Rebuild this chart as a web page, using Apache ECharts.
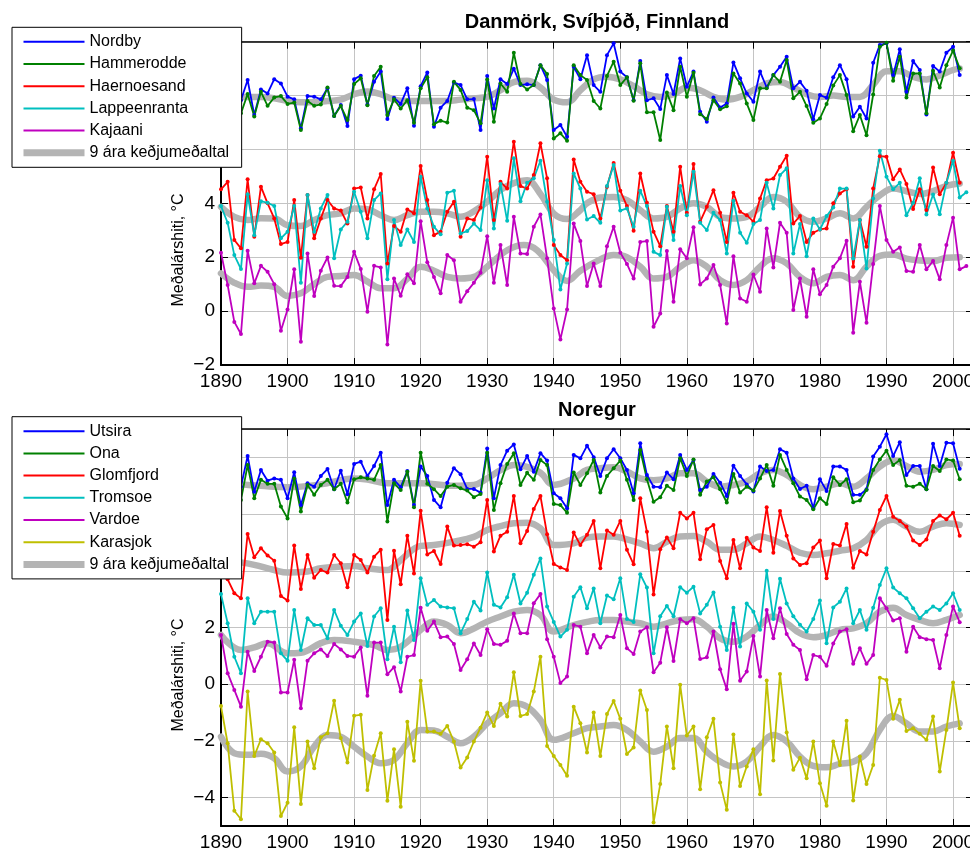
<!DOCTYPE html>
<html><head><meta charset="utf-8">
<script src="https://cdn.jsdelivr.net/npm/echarts@6/dist/echarts.min.js"></script>
<style>html,body{margin:0;padding:0;background:#fff}#c{width:970px;height:848px}</style>
</head><body><div id="c"></div>
<script>
const startYear = 1890;
const xTickInterval = 10;

// ---- Danmörk, Svíþjóð, Finnland (annual means from 1890) ----
const nordby = [7.7,8.2,7.3,7.83,8.58,7.28,8.23,8.08,8.61,8.45,
7.96,7.86,6.78,7.98,7.96,7.86,8.27,7.24,7.65,6.87,
8.61,8.74,7.67,8.51,8.89,7.13,7.92,7.69,8.27,6.88,
8.35,8.86,6.84,7.55,7.80,8.49,8.39,7.86,7.87,6.72,
8.73,7.52,8.61,8.43,9.0,8.39,8.42,8.39,9.13,8.58,
6.72,6.91,6.47,9.07,8.61,9.50,8.39,8.14,9.50,9.94,
8.89,8.68,7.83,9.28,7.83,7.90,7.50,8.76,8.06,9.38,
8.33,8.89,7.40,7.03,7.93,7.56,7.71,9.23,8.64,8.08,
7.77,8.89,8.30,8.76,9.07,9.44,8.27,8.51,8.18,7.12,
8.02,7.92,8.68,9.13,8.61,7.22,7.59,7.15,9.22,9.88,
9.94,8.76,9.72,8.14,9.28,8.95,7.30,9.10,8.89,9.59,
9.81,8.76];
const hammerodde = [7.3,7.9,7.0,7.34,8.06,7.22,8.14,7.62,7.93,7.98,
7.69,7.74,6.72,7.80,7.62,7.67,8.30,7.24,7.61,7.09,
8.43,8.64,7.64,8.73,9.07,7.28,7.86,7.52,7.83,6.99,
8.27,8.68,6.94,7.07,7.00,8.51,8.21,7.55,7.46,6.97,
8.60,7.03,8.45,8.14,9.59,8.43,8.23,8.39,9.13,8.80,
6.41,6.60,6.32,9.13,8.76,8.58,7.80,7.52,8.73,9.26,
8.39,8.68,7.81,9.20,7.38,7.38,6.35,8.11,7.46,9.07,
7.96,8.85,7.31,7.13,7.83,7.49,7.60,8.82,8.45,7.71,
7.09,8.27,8.27,8.76,8.51,9.32,7.90,8.14,7.61,6.99,
7.15,7.69,8.37,8.76,8.02,6.68,7.28,6.53,8.04,9.81,
9.96,8.55,9.44,7.93,8.82,8.82,7.34,8.92,8.30,9.13,
9.67,9.01];
const haernoesand = [4.52,4.80,2.64,2.33,4.89,2.76,4.62,4.00,3.44,2.49,
2.57,4.12,1.98,4.31,2.70,3.44,4.12,3.81,3.73,3.25,
4.55,4.59,3.44,4.52,5.09,1.77,3.16,2.95,3.77,3.63,
5.39,4.12,2.82,2.95,3.69,4.06,2.76,3.44,3.38,3.85,
5.73,3.38,4.80,4.55,6.29,4.64,4.55,5.05,6.23,4.93,
2.45,2.08,1.89,5.63,4.80,4.43,4.34,3.44,4.62,5.50,
4.47,3.90,2.98,5.11,4.02,2.95,2.41,3.90,2.95,5.36,
3.65,5.46,3.32,3.87,4.49,3.65,2.57,4.39,3.69,3.56,
3.32,4.18,4.86,4.92,5.36,5.77,3.25,3.53,2.57,2.91,
3.03,3.07,4.00,4.37,4.52,1.65,3.38,2.39,4.55,5.75,
5.73,4.89,5.26,4.72,3.79,4.52,3.75,5.33,4.34,4.76,
5.88,4.76];
const lappeenranta = [3.90,3.28,2.08,1.56,4.34,2.82,4.08,4.02,3.90,2.70,
2.95,3.90,1.05,4.31,2.95,3.81,4.31,1.96,3.03,3.32,
4.43,3.69,2.70,4.12,4.37,1.18,3.38,2.45,3.03,2.57,
4.99,3.81,3.13,2.85,4.39,4.47,2.88,2.97,3.25,3.01,
4.86,3.07,4.72,3.35,5.67,4.08,4.76,4.93,5.58,4.06,
2.64,0.80,1.77,5.11,4.55,3.40,3.53,3.28,4.64,5.42,
3.73,3.81,3.13,4.47,3.90,2.20,2.08,3.87,2.64,4.64,
3.56,5.17,3.28,3.01,3.65,3.38,2.14,4.10,2.91,2.54,
3.23,3.38,4.76,3.81,5.05,5.30,2.14,3.23,2.04,3.44,
3.03,3.53,3.85,4.55,4.55,1.95,3.38,1.58,4.18,5.95,
4.99,4.52,4.76,3.56,4.02,4.93,3.59,4.33,3.60,4.76,
5.58,4.22,4.41];
const kajaani = [2.17,0.97,-0.40,-0.85,2.24,1.03,1.68,1.46,1.00,-0.73,
0.06,1.55,-1.14,2.14,0.56,1.50,1.99,0.94,0.93,1.27,
2.20,1.56,-0.02,1.68,1.62,-1.24,1.21,0.57,1.37,1.03,
3.34,1.81,1.27,0.66,2.08,1.89,0.35,0.74,1.05,1.42,
2.78,1.05,2.45,0.97,3.50,2.14,2.12,3.13,3.59,1.96,
0.10,-1.05,0.06,3.25,2.60,0.93,1.77,0.93,2.41,3.13,
2.17,1.75,1.21,2.57,2.60,-0.58,-0.09,2.23,0.35,2.30,
1.96,3.11,0.99,1.21,1.71,0.97,-0.46,2.04,0.47,0.35,
1.36,0.72,3.07,1.62,3.28,2.91,0.04,1.21,-0.21,1.55,
0.63,0.97,1.65,1.96,2.61,-0.80,1.09,-0.43,1.75,3.90,
2.64,2.20,2.36,1.49,1.46,2.45,1.55,1.86,1.18,2.45,
3.47,1.55,1.67];

// ---- Noregur ----
const utsira = [7.3,6.9,7.8,6.97,8.05,6.79,7.56,7.18,7.26,7.21,
6.56,7.48,6.32,7.09,6.97,7.35,7.59,6.88,7.53,6.70,
7.77,7.85,7.35,7.70,8.17,6.32,7.21,6.95,7.52,6.32,
7.68,7.35,6.50,6.24,7.11,7.62,7.41,6.89,6.89,6.76,
8.32,6.56,7.73,8.24,8.46,7.58,8.05,7.50,8.15,7.89,
6.74,6.56,6.21,8.09,7.97,8.41,8.01,7.35,7.97,8.29,
7.97,7.56,6.74,8.50,7.38,6.97,6.95,7.47,7.23,8.09,
7.56,7.91,6.85,6.97,7.42,7.11,6.64,7.71,7.35,7.05,
6.80,7.68,7.52,7.56,8.29,8.17,7.26,6.89,7.00,6.21,
7.23,6.82,7.68,7.68,7.56,6.68,6.68,6.88,8.03,8.38,
8.82,8.05,8.54,7.38,7.70,7.70,6.88,8.48,7.70,8.52,
8.50,7.60];
const ona = [6.9,6.6,7.5,6.50,7.73,6.56,7.21,7.07,7.07,6.27,
5.85,7.26,6.09,7.03,6.68,7.03,7.21,6.88,7.07,6.41,
7.23,7.30,7.26,7.21,7.73,5.74,7.09,6.85,7.50,6.24,
8.17,7.07,6.88,6.64,6.97,7.03,6.91,6.83,6.60,6.71,
8.17,6.15,7.09,7.77,8.15,7.03,7.46,7.21,7.91,7.73,
6.36,6.32,6.05,7.47,7.03,7.44,7.91,6.76,7.35,7.62,
7.89,7.21,6.50,8.26,7.23,6.44,6.60,7.00,6.85,7.97,
7.35,7.93,6.68,7.15,7.30,6.88,6.41,7.42,6.76,6.97,
6.83,7.26,7.73,7.00,8.09,7.56,7.09,6.62,6.50,6.17,
6.56,6.36,7.30,7.03,7.23,6.42,6.48,6.85,7.56,7.93,
8.24,7.73,7.91,7.00,6.97,7.07,6.88,7.70,7.52,7.93,
7.89,7.23];
const glomfjord = [4.4,3.7,3.21,3.03,5.30,4.48,4.80,4.54,4.36,3.11,
2.95,4.89,3.36,4.56,3.76,4.03,3.94,4.56,4.27,3.42,
4.56,4.38,3.94,4.50,4.74,2.27,4.71,3.53,5.24,3.91,
6.12,4.58,4.70,4.24,5.56,4.89,4.91,4.94,4.85,5.01,
6.50,4.68,5.24,5.38,6.64,4.97,5.41,6.18,6.64,5.29,
4.24,4.12,4.03,5.35,4.91,5.27,5.76,4.09,5.42,5.27,
5.76,4.74,4.23,6.56,5.38,3.17,4.76,5.18,4.80,6.05,
5.85,6.05,4.41,5.47,5.62,4.35,3.74,5.09,4.09,5.17,
4.82,4.70,6.24,4.64,6.11,5.24,4.44,4.21,4.27,4.82,
5.07,3.74,4.95,4.89,5.65,4.11,4.70,4.58,5.38,6.15,
6.64,5.91,5.76,5.56,5.07,4.91,5.11,5.76,5.95,5.82,
6.05,5.24];
const tromsoe = [3.18,2.15,0.97,0.39,3.03,2.15,2.56,2.56,2.56,1.09,
0.83,2.62,1.21,2.33,2.09,2.09,1.62,2.62,2.06,1.74,
2.21,2.50,1.35,2.39,2.68,0.88,2.03,0.78,2.60,1.56,
3.74,2.80,2.97,2.74,2.71,2.68,1.80,2.30,2.91,2.60,
3.94,2.80,2.71,3.07,3.86,2.85,3.23,3.86,4.44,2.74,
2.20,1.68,1.92,3.09,3.42,2.68,3.38,2.15,3.13,3.00,
3.74,2.30,2.20,3.88,3.41,1.09,2.40,2.76,2.40,3.42,
3.23,3.44,2.50,2.80,3.24,2.03,1.21,2.70,1.33,2.85,
2.56,1.92,4.00,2.30,3.72,2.85,2.40,2.10,1.86,2.30,
2.95,1.45,2.71,2.91,3.38,2.15,2.62,1.92,2.70,3.50,
4.09,3.41,3.21,3.03,2.68,2.33,2.56,2.74,2.62,2.85,
3.21,2.62];
const vardoe = [1.74,0.39,-0.20,-0.79,1.15,0.47,0.97,1.50,1.47,-0.29,
-0.29,0.86,-0.85,0.83,1.09,1.23,1.00,1.42,1.23,1.00,
0.97,1.30,-0.41,1.47,1.47,0.35,0.60,-0.26,0.97,1.03,
2.70,1.89,2.21,1.66,1.68,1.42,0.50,0.88,1.44,1.03,
1.94,1.42,1.39,1.53,2.50,1.80,1.80,2.86,3.18,1.59,
0.97,0.04,0.27,2.09,2.03,1.09,1.74,1.30,1.68,1.66,
2.44,1.27,1.07,1.86,2.01,0.42,0.76,2.01,0.82,2.29,
2.15,2.33,0.89,0.95,1.86,0.53,-0.18,2.13,0.12,0.45,
1.70,0.27,2.62,1.62,2.68,1.77,1.39,1.21,0.18,1.03,
0.97,0.65,1.44,1.86,1.94,0.72,1.27,0.72,1.03,3.03,
2.68,2.25,2.33,1.15,2.03,1.66,1.59,1.56,0.56,1.74,
2.74,2.19];
const karasjok = [-0.77,-2.08,-4.46,-4.76,-0.26,-2.53,-1.94,-2.08,-2.41,-4.65,
-4.18,-1.52,-4.22,-2.02,-2.96,-1.87,-1.73,-0.58,-1.90,-2.76,
-1.11,-1.08,-3.73,-2.52,-1.73,-4.11,-2.29,-4.32,-1.32,-2.70,
0.12,-1.67,-1.67,-1.75,-1.47,-2.02,-2.94,-2.58,-2.02,-1.53,
-1.00,-1.47,-0.69,-1.14,0.42,-1.12,-1.05,-0.26,0.97,-2.18,
-2.53,-2.85,-3.23,-0.79,-1.38,-2.41,-1.00,-2.53,-1.05,-0.59,
-1.22,-2.46,-2.23,-0.22,-0.91,-4.88,-3.52,-1.49,-2.96,-0.02,
-1.81,-1.49,-3.70,-1.87,-1.22,-3.47,-4.43,-1.77,-3.59,-2.90,
-2.29,-3.88,0.13,-2.69,0.36,-1.70,-3.02,-2.59,-3.32,-2.02,
-3.49,-4.29,-2.02,-2.85,-1.29,-4.10,-2.55,-3.52,-2.85,0.23,
0.15,-1.22,-0.55,-1.65,-1.55,-1.75,-1.96,-1.14,-3.08,-1.61,
0.06,-1.55];

// ---- 9 ára keðjumeðaltal ([year, value]) ----
const maTopUpper = [[1890,7.9],[1892,7.95],[1894,7.95],[1896,7.95],[1898,7.9],[1900,7.8],[1902,7.75],[1904,7.75],[1906,7.8],[1908,7.85],[1910,8.05],[1912,8.15],[1914,8.05],[1916,7.85],[1918,7.8],[1920,7.8],[1922,7.8],[1924,7.8],[1926,7.85],[1928,7.9],[1930,7.95],[1932,8.2],[1934,8.5],[1936,8.55],[1938,8.3],[1940,7.85],[1942,7.75],[1944,8.2],[1946,8.6],[1948,8.7],[1950,8.6],[1952,8.35],[1954,8.05],[1956,7.95],[1958,8.05],[1960,8.3],[1962,8.2],[1964,7.95],[1966,7.85],[1968,7.95],[1970,8.2],[1972,8.45],[1974,8.5],[1976,8.3],[1978,8.05],[1980,7.95],[1982,8.0],[1984,7.95],[1986,7.95],[1988,8.4],[1990,8.9],[1992,8.9],[1994,8.7],[1996,8.6],[1998,8.75],[2000,8.95],[2001,9.0]];
const maTopMiddle = [[1890,3.87],[1892,3.5],[1894,3.38],[1896,3.45],[1898,3.44],[1900,3.19],[1902,3.16],[1904,3.38],[1906,3.56],[1908,3.63],[1910,3.81],[1912,3.78],[1914,3.56],[1916,3.38],[1918,3.56],[1920,3.69],[1922,3.69],[1924,3.63],[1926,3.5],[1928,3.7],[1930,4.06],[1932,4.5],[1934,4.75],[1936,4.86],[1938,4.35],[1940,3.62],[1942,3.42],[1944,3.75],[1945,4.0],[1947,4.22],[1949,4.24],[1951,4.12],[1953,3.75],[1955,3.44],[1957,3.5],[1959,3.81],[1961,4.0],[1963,3.87],[1965,3.5],[1967,3.44],[1969,3.5],[1971,3.87],[1973,4.24],[1975,4.06],[1977,3.5],[1979,3.32],[1981,3.44],[1983,3.63],[1985,3.44],[1987,3.87],[1989,4.3],[1991,4.55],[1993,4.45],[1995,4.35],[1997,4.45],[1999,4.65],[2001,4.74]];
const maTopLower = [[1890,1.4],[1892,1.05],[1894,0.9],[1896,0.95],[1898,0.9],[1900,0.56],[1902,0.66],[1904,1.0],[1906,1.27],[1908,1.3],[1910,1.34],[1912,1.1],[1914,0.85],[1916,0.85],[1918,1.2],[1920,1.65],[1922,1.5],[1924,1.27],[1926,1.21],[1928,1.27],[1930,1.65],[1933,2.26],[1935.5,2.45],[1937.5,2.26],[1940,1.52],[1942,1.12],[1944,1.5],[1947,1.92],[1949,2.08],[1951,2.0],[1953,1.65],[1955,1.21],[1957,1.27],[1959,1.65],[1961,1.89],[1963,1.65],[1965,1.15],[1967,0.97],[1969,1.15],[1971,1.65],[1973,1.96],[1975,1.77],[1977,1.27],[1979,1.03],[1981,1.27],[1983,1.34],[1985,1.15],[1987,1.65],[1989,2.05],[1991,2.1],[1993,1.95],[1995,1.88],[1997,1.85],[1999,1.98],[2001,2.0]];
const maBotUpper = [[1890,7.1],[1893,7.05],[1896,7.0],[1900,6.95],[1905,7.05],[1910,7.26],[1912,7.22],[1915,7.09],[1920,7.09],[1925,7.0],[1928,7.03],[1930,7.26],[1932,7.55],[1934,7.73],[1936,7.67],[1938,7.46],[1940,7.03],[1943,7.26],[1945,7.56],[1947,7.62],[1949,7.65],[1951,7.5],[1953,7.26],[1955,7.2],[1957,7.26],[1959,7.44],[1961,7.44],[1963,7.15],[1965,6.97],[1967,7.03],[1969,7.15],[1971,7.44],[1973,7.56],[1975,7.38],[1977,7.03],[1979,6.88],[1981,6.97],[1983,7.09],[1985,6.97],[1987,7.26],[1989,7.68],[1991,7.89],[1993,7.7],[1995,7.5],[1997,7.56],[1999,7.73],[2001,7.77]];
const maBotGlom = [[1890,4.38],[1893,4.3],[1895,4.21],[1898,4.03],[1900,3.94],[1903,3.98],[1905,4.09],[1908,4.15],[1910,4.17],[1912,4.09],[1915,4.03],[1917,4.38],[1920,4.88],[1922,4.91],[1925,5.03],[1928,5.2],[1930,5.44],[1932,5.58],[1934,5.68],[1936,5.7],[1938,5.5],[1940,4.91],[1943,4.97],[1945,5.17],[1947,5.21],[1949,5.21],[1951,5.11],[1953,4.97],[1955,4.8],[1957,5.03],[1959,5.21],[1961,5.23],[1963,5.03],[1965,4.74],[1967,4.74],[1969,4.97],[1971,5.21],[1973,5.09],[1975,4.88],[1977,4.64],[1979,4.56],[1981,4.62],[1983,4.71],[1985,4.8],[1987,5.09],[1989,5.62],[1991,5.8],[1993,5.56],[1995,5.38],[1997,5.56],[1999,5.68],[2001,5.62]];
const maBotMid = [[1890,1.74],[1893,1.21],[1895,1.3],[1897,1.45],[1900,1.09],[1902,1.11],[1905,1.45],[1907,1.56],[1910,1.5],[1913,1.38],[1915,1.21],[1917,1.32],[1920,1.92],[1922,2.21],[1924,2.09],[1926,1.8],[1928,1.97],[1930,2.21],[1932,2.39],[1934,2.56],[1936,2.62],[1938,2.44],[1940,1.86],[1943,2.09],[1945,2.2],[1947,2.27],[1949,2.27],[1951,2.21],[1953,2.15],[1955,2.03],[1957,2.15],[1959,2.27],[1961,2.29],[1963,2.03],[1965,1.62],[1967,1.5],[1969,1.68],[1971,2.09],[1973,2.39],[1975,2.15],[1977,1.8],[1979,1.66],[1981,1.74],[1983,1.92],[1985,1.97],[1987,2.15],[1989,2.56],[1991,2.7],[1993,2.44],[1995,2.27],[1997,2.15],[1999,2.27],[2001,2.44]];
const maBotKara = [[1890,-1.85],[1892,-2.43],[1894,-2.49],[1896,-2.45],[1898,-2.61],[1900,-3.08],[1902,-2.9],[1904,-2.2],[1906,-1.79],[1908,-1.85],[1910,-2.2],[1912,-2.55],[1914,-2.79],[1916,-2.67],[1918,-2.08],[1920,-1.61],[1922,-1.63],[1924,-1.85],[1926,-2.08],[1928,-1.85],[1930,-1.38],[1932,-1.02],[1934,-0.67],[1936,-0.79],[1938,-1.26],[1940,-1.96],[1943,-1.73],[1945,-1.55],[1947,-1.49],[1949,-1.44],[1951,-1.61],[1953,-2.02],[1955,-2.38],[1957,-2.2],[1959,-1.9],[1961,-1.9],[1963,-2.38],[1965,-2.73],[1967,-2.9],[1969,-2.73],[1971,-2.2],[1973,-1.79],[1975,-2.02],[1977,-2.55],[1979,-2.88],[1981,-2.93],[1983,-2.81],[1985,-2.73],[1987,-2.43],[1989,-1.61],[1991,-1.12],[1993,-1.38],[1995,-1.67],[1997,-1.67],[1999,-1.49],[2001,-1.38]];

const maName = '9 ára keðjumeðaltal';
const topTitle = 'Danmörk, Svíþjóð, Finnland';
const botTitle = 'Noregur';
const yName = 'Meðalárshiti, °C';

const FONT = '"Liberation Sans", Arial, Helvetica, sans-serif';
const C = {blue:'#0000ff', green:'#008000', red:'#ff0000', cyan:'#00bfbf', magenta:'#bf00bf', yellow:'#bfbf00', gray:'#b4b4b4'};

function pairs(arr){ return arr.map((v,i)=>[startYear+i, v]); }
function plainFmt(v){ return String(v); }
function minusFmt(v){ return String(v).replace('-', '\u2212'); }

function xAx(grid, pos){
  const main = pos === 'bottom';
  return {type:'value', gridIndex:grid, position:pos, min:1890, max:2003, interval:xTickInterval,
    axisLine:{show:true, onZero:false, lineStyle:{color:'#000', width: main?2:1.5}},
    axisTick:{show:true, inside:true, length:7, lineStyle:{color:'#000', width:1}},
    axisLabel:{show:main, color:'#000', fontSize:19, fontFamily:FONT, margin:7, showMaxLabel:false, formatter:plainFmt},
    splitLine:{show:main, lineStyle:{color:'#c4c4c4', width:1}}};
}
function yAx(grid, pos, range){
  const main = pos === 'left';
  const ax = {type:'value', gridIndex:grid, position:pos, min:range.min, max:range.max,
    axisLine:{show:true, onZero:false, lineStyle:{color:'#000', width: main?2:1.5}},
    axisTick:{show:true, inside:true, length:7, lineStyle:{color:'#000', width:1}},
    axisLabel:{show:main, color:'#000', fontSize:19, fontFamily:FONT, margin:6, formatter:minusFmt,
      showMaxLabel:false, showMinLabel: range.showMin},
    splitLine:{show:main, lineStyle:{color:'#c4c4c4', width:1}}};
  if (range.interval) ax.interval = range.interval; else ax.splitNumber = range.splitNumber;
  return ax;
}
const topRange = {min:-2, max:10, interval:2, showMin:true};
const botRange = {min:-5, max:9, splitNumber:7, showMin:false};

function dataSeries(name, arr, color, g){
  return {type:'line', name, data:pairs(arr), xAxisIndex:g*2, yAxisIndex:g*2, z:3,
    symbol:'circle', symbolSize:4, showSymbol:true, showAllSymbol:true,
    lineStyle:{color, width:1.8}, itemStyle:{color}, silent:true, animation:false};
}
function maSeries(data, g){
  return {type:'line', name:maName, data, xAxisIndex:g*2, yAxisIndex:g*2, z:2,
    smooth:0.4, symbol:'none', lineStyle:{color:C.gray, width:6.5, cap:'round'}, itemStyle:{color:C.gray},
    silent:true, animation:false};
}

function legend(top, names){
  return {orient:'vertical', left:12, top, itemWidth:61, itemHeight:14, itemGap:6.2,
    padding:[6.5,12.5,6.5,8], backgroundColor:'#fff', borderColor:'#000', borderWidth:1, borderRadius:0,
    selectedMode:false, z:10,
    itemStyle:{opacity:0}, lineStyle:{width:2},
    textStyle:{color:'#000', fontSize:16, fontFamily:FONT, lineHeight:16},
    data: names.map(n => n === maName ? {name:n, lineStyle:{width:7, color:C.gray, cap:'butt'}} : n)};
}

const option = {
  backgroundColor:'#fff',
  animation:false,
  grid:[
    {left:221, top:41.7, width:752, height:323.3, outerBoundsMode:'none', containLabel:false},
    {left:221, top:429.1, width:752, height:396.9, outerBoundsMode:'none', containLabel:false}
  ],
  xAxis:[xAx(0,'bottom'), xAx(0,'top'), xAx(1,'bottom'), xAx(1,'top')],
  yAxis:[yAx(0,'left',topRange), yAx(0,'right',topRange), yAx(1,'left',botRange), yAx(1,'right',botRange)],
  legend:[
    legend(27.3, ['Nordby','Hammerodde','Haernoesand','Lappeenranta','Kajaani',maName]),
    legend(416.7, ['Utsira','Ona','Glomfjord','Tromsoe','Vardoe','Karasjok',maName])
  ],
  graphic:[
    {type:'text', x:597, y:22, silent:true, style:{text:topTitle, font:'bold 20px '+FONT, fill:'#000', align:'center', verticalAlign:'middle'}},
    {type:'text', x:597, y:410, silent:true, style:{text:botTitle, font:'bold 20px '+FONT, fill:'#000', align:'center', verticalAlign:'middle'}},
    {type:'text', x:179, y:250, rotation:Math.PI/2, silent:true, style:{text:yName, font:'16px '+FONT, fill:'#000', align:'center', verticalAlign:'middle'}},
    {type:'text', x:179, y:675, rotation:Math.PI/2, silent:true, style:{text:yName, font:'16px '+FONT, fill:'#000', align:'center', verticalAlign:'middle'}}
  ],
  series:[
    maSeries(maTopUpper,0), maSeries(maTopMiddle,0), maSeries(maTopLower,0),
    dataSeries('Nordby', nordby, C.blue, 0),
    dataSeries('Hammerodde', hammerodde, C.green, 0),
    dataSeries('Haernoesand', haernoesand, C.red, 0),
    dataSeries('Lappeenranta', lappeenranta, C.cyan, 0),
    dataSeries('Kajaani', kajaani, C.magenta, 0),
    maSeries(maBotUpper,1), maSeries(maBotGlom,1), maSeries(maBotMid,1), maSeries(maBotKara,1),
    dataSeries('Utsira', utsira, C.blue, 1),
    dataSeries('Ona', ona, C.green, 1),
    dataSeries('Glomfjord', glomfjord, C.red, 1),
    dataSeries('Tromsoe', tromsoe, C.cyan, 1),
    dataSeries('Vardoe', vardoe, C.magenta, 1),
    dataSeries('Karasjok', karasjok, C.yellow, 1)
  ]
};
const chart = echarts.init(document.getElementById('c'), null, {renderer:'canvas'});
chart.setOption(option);
</script></body></html>
